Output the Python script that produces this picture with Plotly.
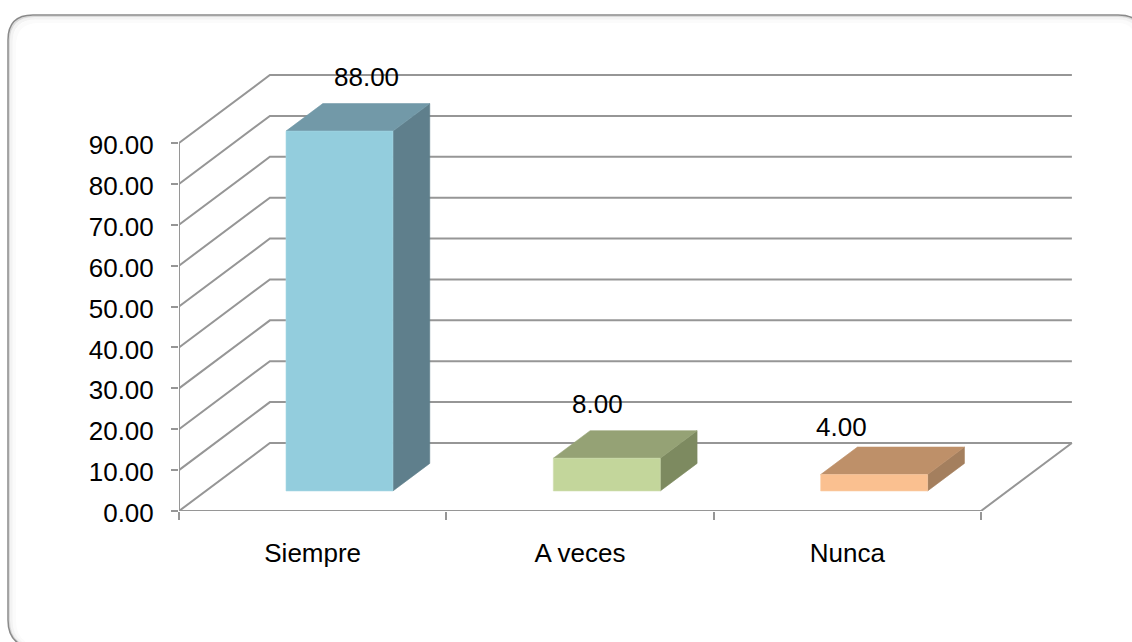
import plotly.graph_objects as go

# Chart data
categories = ["Siempre", "A veces", "Nunca"]
values = [88.0, 8.0, 4.0]
value_labels = ["88.00", "8.00", "4.00"]
y_ticks = [0, 10, 20, 30, 40, 50, 60, 70, 80, 90]
y_tick_labels = ["0.00", "10.00", "20.00", "30.00", "40.00", "50.00", "60.00", "70.00", "80.00", "90.00"]

# Bar colours: front, top and side faces
front_colors = ["#93CDDD", "#C3D69B", "#FAC090"]
top_colors = ["#7299A8", "#95A275", "#BE9069"]
side_colors = ["#5F7F8C", "#7D8A60", "#A47F5E"]
edge_colors = ["#A5D6E4", "#CEDDAE", "#FCCBA2"]

GRID = "#969696"
FONT = "Liberation Sans, Arial, sans-serif"

W, H = 1132, 642
LEFT, RIGHT, TOP, BOTTOM = 179, 1073, 74, 511
PX_PER_CAT = 267.33
PX_PER_VAL = 368 / 90

# Oblique projection: a unit of depth moves a point right and up
DEPTH_X = 0.34
DEPTH_Y = 16.63
BAR_LEFT, BAR_RIGHT = 0.30, 0.70
BAR_FRONT, BAR_BACK = 0.295, 0.70


def project(cat, val, depth):
    return cat + depth * DEPTH_X, val + depth * DEPTH_Y


def polygon(points, fill, line, width=0.6):
    pts = [project(*p) for p in points]
    xs = [p[0] for p in pts] + [pts[0][0]]
    ys = [p[1] for p in pts] + [pts[0][1]]
    return go.Scatter(x=xs, y=ys, mode="lines", fill="toself", fillcolor=fill,
                      line=dict(color=line, width=width), hoverinfo="skip", showlegend=False)


def frame_line(points):
    pts = [project(*p) for p in points]
    return go.Scatter(x=[p[0] for p in pts], y=[p[1] for p in pts], mode="lines",
                      line=dict(color=GRID, width=2), hoverinfo="skip", showlegend=False)


fig = go.Figure()
n = len(categories)

# Back wall grid lines with their side-wall diagonals
for v in y_ticks:
    fig.add_trace(frame_line([(0, v, 0), (0, v, 1), (n, v, 1)]))

# Floor edges and the front value axis
fig.add_trace(frame_line([(n, 0, 1), (n, 0, 0), (0, 0, 0), (0, y_ticks[-1], 0)]))

# Three visible faces of each bar
for i, v in enumerate(values):
    a, b = i + BAR_LEFT, i + BAR_RIGHT
    fig.add_trace(polygon([(b, 0, BAR_FRONT), (b, 0, BAR_BACK), (b, v, BAR_BACK), (b, v, BAR_FRONT)],
                          side_colors[i], side_colors[i]))
    fig.add_trace(polygon([(a, v, BAR_FRONT), (b, v, BAR_FRONT), (b, v, BAR_BACK), (a, v, BAR_BACK)],
                          top_colors[i], top_colors[i]))
    fig.add_trace(polygon([(a, 0, BAR_FRONT), (b, 0, BAR_FRONT), (b, v, BAR_FRONT), (a, v, BAR_FRONT)],
                          front_colors[i], edge_colors[i]))

# Value labels sit above the bar tops, nudged clear of the neighbouring faces
label_shifts = [(8, 40), (-28, 40), (-51, 34)]
for i, v in enumerate(values):
    x, y = project(i + 0.5, v, 0.5)
    fig.add_annotation(x=x, y=y, text=value_labels[i], showarrow=False,
                       xshift=label_shifts[i][0], yshift=label_shifts[i][1],
                       font=dict(family=FONT, size=26, color="#000000"))


def card_path(inset):
    # Open outline: bottom-left corner, left edge, top edge, top-right corner
    x0 = (8 + inset - LEFT) / (RIGHT - LEFT)
    x1 = (1118 - LEFT) / (RIGHT - LEFT)
    x2 = (1145 - inset - LEFT) / (RIGHT - LEFT)
    xa = (33 + inset - LEFT) / (RIGHT - LEFT)
    xb = (18 + inset - LEFT) / (RIGHT - LEFT)
    yp = lambda p: (BOTTOM - p) / (BOTTOM - TOP)
    return (f"M {xb} {yp(643)} Q {x0} {yp(636)} {x0} {yp(620)} "
            f"L {x0} {yp(40 + inset)} Q {x0} {yp(15 + inset)} {xa} {yp(15 + inset)} "
            f"L {x1} {yp(15 + inset)} Q {x2} {yp(15 + inset)} {x2} {yp(42 + inset)}")


# Card outline with a soft inner shadow
for inset, color, width in [(6, "#FBFBFB", 4), (3, "#F3F3F3", 3), (1.2, "#DADADA", 1.5), (0, "#8A8A8A", 1.5)]:
    fig.add_shape(type="path", path=card_path(inset), xref="paper", yref="paper",
                  line=dict(color=color, width=width), layer="below")

fig.update_layout(
    width=W, height=H, autosize=False,
    margin=dict(l=LEFT, r=W - RIGHT, t=TOP, b=H - BOTTOM, pad=0),
    paper_bgcolor="#FFFFFF", plot_bgcolor="rgba(0,0,0,0)",
    showlegend=False,
    xaxis=dict(
        range=[0, (RIGHT - LEFT) / PX_PER_CAT],
        tickmode="array",
        tickvals=[i + 0.5 for i in range(n)],
        ticktext=categories,
        ticks="", showgrid=False, zeroline=False, showline=False,
        ticklabelstandoff=24,
        tickfont=dict(family=FONT, size=26, color="#000000"),
        minor=dict(tickmode="array", tickvals=list(range(n + 1)), ticks="outside",
                   ticklen=8, tickwidth=2, tickcolor=GRID, showgrid=False),
    ),
    yaxis=dict(
        range=[0, (BOTTOM - TOP) / PX_PER_VAL],
        tickmode="array",
        tickvals=y_ticks,
        ticktext=y_tick_labels,
        ticks="outside", ticklen=7, tickwidth=2, tickcolor=GRID,
        showgrid=False, zeroline=False, showline=False,
        ticklabelstandoff=12,
        ticklabelshift=2,
        tickfont=dict(family=FONT, size=26, color="#000000"),
    ),
)

fig.write_html("out.html")
